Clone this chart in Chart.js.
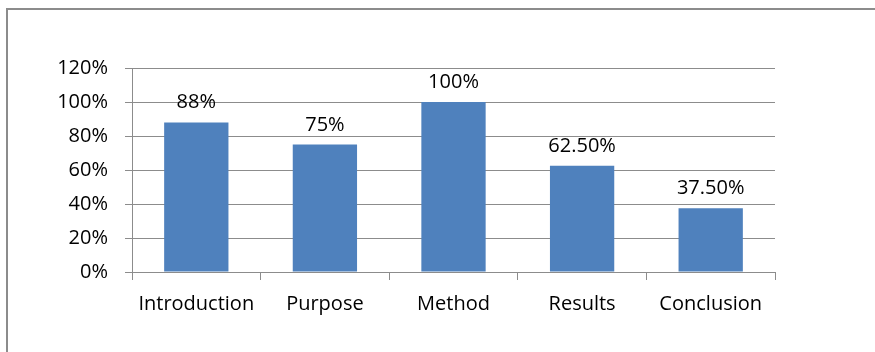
<!DOCTYPE html>
<html>
<head>
<meta charset="utf-8">
<script src="https://cdn.jsdelivr.net/npm/chart.js@4/dist/chart.umd.min.js"></script>
<style>
    html, body { margin: 0; padding: 0; background: #fff; }
    #wrap { position: relative; width: 875px; height: 352px; overflow: hidden; }
    #frame {
        position: absolute; left: 6px; top: 8px; width: 900px; height: 400px;
        border-left: 2px solid #8c8c8c; border-top: 2px solid #8c8c8c;
    }
    canvas { position: absolute; left: 0; top: 0; }
</style>
</head>
<body>
<div id="wrap">
    <div id="frame"></div>
    <canvas id="chart" width="875" height="352"></canvas>
</div>
<script>
const categories = ['Introduction', 'Purpose', 'Method', 'Results', 'Conclusion'];
const values = [88, 75, 100, 62.5, 37.5];
const valueLabels = ['88%', '75%', '100%', '62.50%', '37.50%'];

const FONT = '"Open Sans", sans-serif';

// draw the value labels above each bar
const barLabels = {
    id: 'barLabels',
    afterDatasetsDraw(chart) {
        const ctx = chart.ctx;
        const meta = chart.getDatasetMeta(0);
        ctx.save();
        ctx.font = `20px ${FONT}`;
        ctx.fillStyle = '#000';
        ctx.textAlign = 'center';
        ctx.textBaseline = 'alphabetic';
        meta.data.forEach((bar, i) => {
            ctx.fillText(valueLabels[i], bar.x, bar.y - 14);
        });
        ctx.restore();
    }
};

const ctx = document.getElementById('chart').getContext('2d');
new Chart(ctx, {
    type: 'bar',
    data: {
        labels: categories,
        datasets: [{
            data: values,
            backgroundColor: '#4f81bd',
            borderWidth: 0,
            barPercentage: 0.5,
            categoryPercentage: 1
        }]
    },
    options: {
        responsive: false,
        animation: false,
        devicePixelRatio: 1,
        layout: { padding: { left: 0, top: 68, right: 100, bottom: 0 } },
        plugins: {
            legend: { display: false },
            tooltip: { enabled: false }
        },
        scales: {
            x: {
                afterFit: s => { s.height = 80; },
                grid: {
                    offset: true,
                    drawOnChartArea: false,
                    color: '#8c8c8c',
                    tickLength: 8
                },
                border: { color: '#8c8c8c' },
                ticks: {
                    color: '#000',
                    font: { family: FONT, size: 20 },
                    padding: 12,
                    maxRotation: 0
                }
            },
            y: {
                min: 0,
                max: 120,
                afterFit: s => { s.width = 132; },
                grid: { color: '#8c8c8c', tickLength: 7 },
                border: { color: '#8c8c8c' },
                ticks: {
                    stepSize: 20,
                    color: '#000',
                    padding: 17,
                    font: { family: FONT, size: 20 },
                    callback: v => v + '%'
                }
            }
        }
    },
    plugins: [barLabels]
});
</script>
</body>
</html>
